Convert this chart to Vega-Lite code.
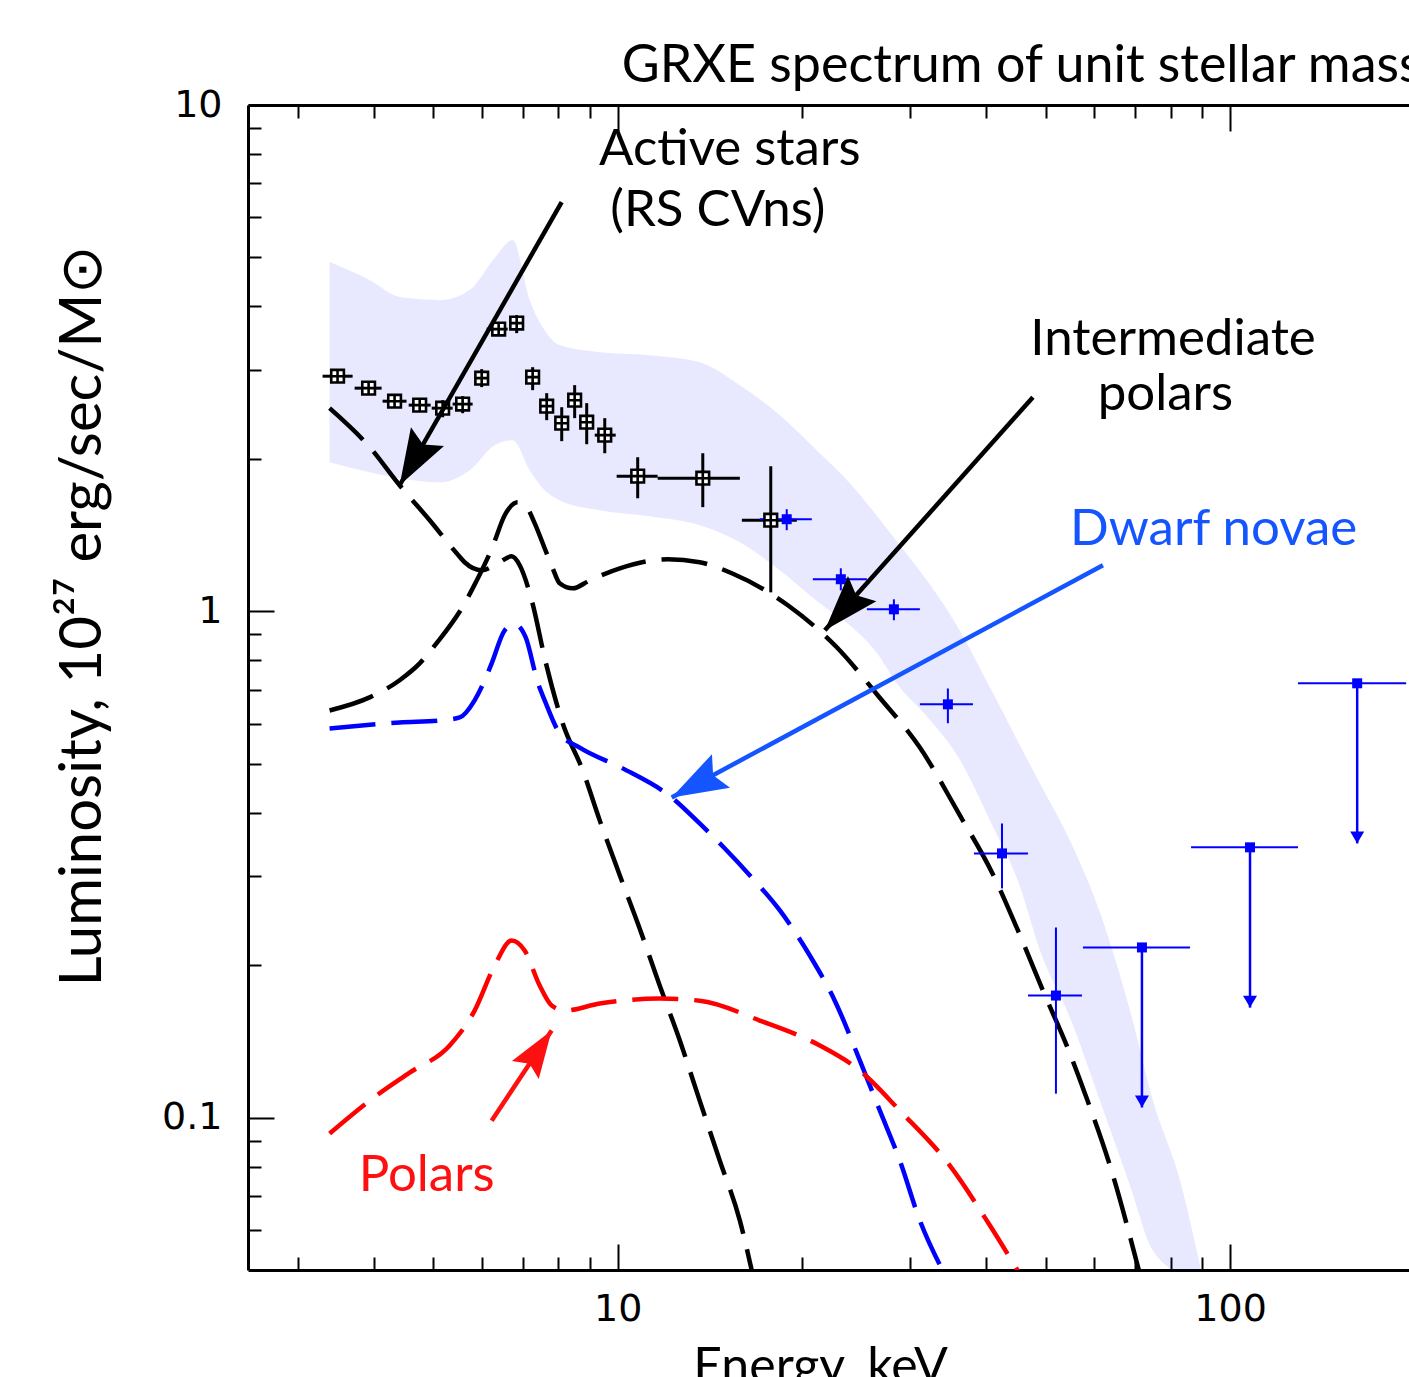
{
  "$schema": "https://vega.github.io/schema/vega-lite/v6.json",
  "autosize": {"type": "none"},
  "padding": {"left": 248, "top": 105, "right": 0, "bottom": 107},
  "width": 1161,
  "height": 1165,
  "background": "white",
  "config": {"view": {"stroke": null}},
  "datasets": {
    "band": [
      {"E": 3.384, "hi": 4.894, "lo": 1.970},
      {"E": 3.934, "hi": 4.511, "lo": 1.883},
      {"E": 4.404, "hi": 4.174, "lo": 1.832},
      {"E": 5.120, "hi": 4.117, "lo": 1.798},
      {"E": 5.731, "hi": 4.310, "lo": 1.900},
      {"E": 6.295, "hi": 4.985, "lo": 2.129},
      {"E": 6.736, "hi": 5.41, "lo": 2.177},
      {"E": 7.182, "hi": 4.117, "lo": 1.900},
      {"E": 7.598, "hi": 3.592, "lo": 1.734},
      {"E": 8.038, "hi": 3.356, "lo": 1.657},
      {"E": 9.346, "hi": 3.250, "lo": 1.583},
      {"E": 11.28, "hi": 3.206, "lo": 1.540},
      {"E": 13.61, "hi": 3.105, "lo": 1.479},
      {"E": 15.83, "hi": 2.797, "lo": 1.369},
      {"E": 18.40, "hi": 2.440, "lo": 1.205},
      {"E": 21.38, "hi": 2.052, "lo": 1.037},
      {"E": 23.94, "hi": 1.791, "lo": 0.938},
      {"E": 26.30, "hi": 1.562, "lo": 0.837},
      {"E": 28.89, "hi": 1.350, "lo": 0.7076},
      {"E": 31.98, "hi": 1.151, "lo": 0.620},
      {"E": 35.93, "hi": 0.930, "lo": 0.517},
      {"E": 40.54, "hi": 0.7076, "lo": 0.3864},
      {"E": 45.38, "hi": 0.5434, "lo": 0.2862},
      {"E": 48.93, "hi": 0.457, "lo": 0.2138},
      {"E": 54.76, "hi": 0.3527, "lo": 0.1576},
      {"E": 61.31, "hi": 0.2542, "lo": 0.108},
      {"E": 68.64, "hi": 0.1627, "lo": 0.0734},
      {"E": 74.84, "hi": 0.108, "lo": 0.0546},
      {"E": 82.86, "hi": 0.0751, "lo": 0.0498},
      {"E": 89.33, "hi": 0.0511, "lo": 0.0498}
    ],
    "curves": [
      {"model": "Active stars", "E": 3.384, "L": 2.519},
      {"model": "Active stars", "E": 3.934, "L": 2.110},
      {"model": "Active stars", "E": 4.404, "L": 1.774},
      {"model": "Active stars", "E": 4.931, "L": 1.513},
      {"model": "Active stars", "E": 5.457, "L": 1.302},
      {"model": "Active stars", "E": 5.623, "L": 1.250},
      {"model": "Active stars", "E": 5.996, "L": 1.205},
      {"model": "Active stars", "E": 6.367, "L": 1.244},
      {"model": "Active stars", "E": 6.711, "L": 1.284},
      {"model": "Active stars", "E": 6.917, "L": 1.233},
      {"model": "Active stars", "E": 7.237, "L": 1.051},
      {"model": "Active stars", "E": 7.628, "L": 0.793},
      {"model": "Active stars", "E": 8.130, "L": 0.601},
      {"model": "Active stars", "E": 8.767, "L": 0.485},
      {"model": "Active stars", "E": 9.346, "L": 0.3864},
      {"model": "Active stars", "E": 10.08, "L": 0.3008},
      {"model": "Active stars", "E": 10.86, "L": 0.2363},
      {"model": "Active stars", "E": 11.71, "L": 0.1823},
      {"model": "Active stars", "E": 12.63, "L": 0.142},
      {"model": "Active stars", "E": 13.61, "L": 0.108},
      {"model": "Active stars", "E": 14.68, "L": 0.0822},
      {"model": "Active stars", "E": 15.83, "L": 0.0626},
      {"model": "Active stars", "E": 16.56, "L": 0.0498},
      {"model": "Intermediate polars", "E": 3.384, "L": 0.637},
      {"model": "Intermediate polars", "E": 3.934, "L": 0.676},
      {"model": "Intermediate polars", "E": 4.404, "L": 0.731},
      {"model": "Intermediate polars", "E": 4.749, "L": 0.789},
      {"model": "Intermediate polars", "E": 5.061, "L": 0.865},
      {"model": "Intermediate polars", "E": 5.623, "L": 1.037},
      {"model": "Intermediate polars", "E": 5.796, "L": 1.110},
      {"model": "Intermediate polars", "E": 6.249, "L": 1.344},
      {"model": "Intermediate polars", "E": 6.538, "L": 1.548},
      {"model": "Intermediate polars", "E": 6.865, "L": 1.642},
      {"model": "Intermediate polars", "E": 7.101, "L": 1.606},
      {"model": "Intermediate polars", "E": 7.319, "L": 1.492},
      {"model": "Intermediate polars", "E": 7.598, "L": 1.332},
      {"model": "Intermediate polars", "E": 7.831, "L": 1.216},
      {"model": "Intermediate polars", "E": 8.038, "L": 1.136},
      {"model": "Intermediate polars", "E": 8.444, "L": 1.110},
      {"model": "Intermediate polars", "E": 9.000, "L": 1.151},
      {"model": "Intermediate polars", "E": 10.08, "L": 1.216},
      {"model": "Intermediate polars", "E": 12.07, "L": 1.267},
      {"model": "Intermediate polars", "E": 13.61, "L": 1.250},
      {"model": "Intermediate polars", "E": 15.36, "L": 1.189},
      {"model": "Intermediate polars", "E": 18.96, "L": 1.028},
      {"model": "Intermediate polars", "E": 22.79, "L": 0.849},
      {"model": "Intermediate polars", "E": 26.60, "L": 0.682},
      {"model": "Intermediate polars", "E": 31.15, "L": 0.538},
      {"model": "Intermediate polars", "E": 36.21, "L": 0.3952},
      {"model": "Intermediate polars", "E": 40.85, "L": 0.3049},
      {"model": "Intermediate polars", "E": 45.04, "L": 0.2342},
      {"model": "Intermediate polars", "E": 49.48, "L": 0.1782},
      {"model": "Intermediate polars", "E": 54.35, "L": 0.1369},
      {"model": "Intermediate polars", "E": 57.96, "L": 0.1115},
      {"model": "Intermediate polars", "E": 63.66, "L": 0.0804},
      {"model": "Intermediate polars", "E": 71.01, "L": 0.0498},
      {"model": "Dwarf novae", "E": 3.384, "L": 0.587},
      {"model": "Dwarf novae", "E": 4.404, "L": 0.603},
      {"model": "Dwarf novae", "E": 5.158, "L": 0.609},
      {"model": "Dwarf novae", "E": 5.519, "L": 0.617},
      {"model": "Dwarf novae", "E": 5.838, "L": 0.667},
      {"model": "Dwarf novae", "E": 6.064, "L": 0.731},
      {"model": "Dwarf novae", "E": 6.225, "L": 0.789},
      {"model": "Dwarf novae", "E": 6.538, "L": 0.917},
      {"model": "Dwarf novae", "E": 6.787, "L": 0.943},
      {"model": "Dwarf novae", "E": 7.075, "L": 0.888},
      {"model": "Dwarf novae", "E": 7.402, "L": 0.724},
      {"model": "Dwarf novae", "E": 7.598, "L": 0.667},
      {"model": "Dwarf novae", "E": 8.038, "L": 0.574},
      {"model": "Dwarf novae", "E": 8.668, "L": 0.538},
      {"model": "Dwarf novae", "E": 10.19, "L": 0.4895},
      {"model": "Dwarf novae", "E": 12.25, "L": 0.4288},
      {"model": "Dwarf novae", "E": 13.61, "L": 0.381},
      {"model": "Dwarf novae", "E": 14.96, "L": 0.340},
      {"model": "Dwarf novae", "E": 16.44, "L": 0.3008},
      {"model": "Dwarf novae", "E": 18.40, "L": 0.2565},
      {"model": "Dwarf novae", "E": 20.59, "L": 0.209},
      {"model": "Dwarf novae", "E": 22.62, "L": 0.1702},
      {"model": "Dwarf novae", "E": 24.86, "L": 0.1296},
      {"model": "Dwarf novae", "E": 26.80, "L": 0.1032},
      {"model": "Dwarf novae", "E": 28.89, "L": 0.0822},
      {"model": "Dwarf novae", "E": 31.15, "L": 0.0626},
      {"model": "Dwarf novae", "E": 33.96, "L": 0.0498},
      {"model": "Polars", "E": 3.384, "L": 0.0930},
      {"model": "Polars", "E": 3.934, "L": 0.108},
      {"model": "Polars", "E": 4.573, "L": 0.1227},
      {"model": "Polars", "E": 5.316, "L": 0.1388},
      {"model": "Polars", "E": 5.838, "L": 0.1627},
      {"model": "Polars", "E": 6.295, "L": 0.1997},
      {"model": "Polars", "E": 6.711, "L": 0.2238},
      {"model": "Polars", "E": 7.047, "L": 0.2138},
      {"model": "Polars", "E": 7.457, "L": 0.1823},
      {"model": "Polars", "E": 7.80, "L": 0.1665},
      {"model": "Polars", "E": 8.192, "L": 0.1627},
      {"model": "Polars", "E": 9.346, "L": 0.168},
      {"model": "Polars", "E": 11.71, "L": 0.1718},
      {"model": "Polars", "E": 13.61, "L": 0.1702},
      {"model": "Polars", "E": 17.06, "L": 0.1555},
      {"model": "Polars", "E": 21.38, "L": 0.1388},
      {"model": "Polars", "E": 24.86, "L": 0.1238},
      {"model": "Polars", "E": 28.89, "L": 0.1032},
      {"model": "Polars", "E": 34.87, "L": 0.0804},
      {"model": "Polars", "E": 40.54, "L": 0.0612},
      {"model": "Polars", "E": 45.04, "L": 0.0498}
    ],
    "points": [
      {"inst": "RXTE", "E": 3.487, "Elo": 3.296, "Ehi": 3.690, "L": 2.913, "Llo": 2.87, "Lhi": 2.96},
      {"inst": "RXTE", "E": 3.919, "Elo": 3.718, "Ehi": 4.115, "L": 2.759, "Llo": 2.72, "Lhi": 2.80},
      {"inst": "RXTE", "E": 4.321, "Elo": 4.130, "Ehi": 4.520, "L": 2.600, "Llo": 2.56, "Lhi": 2.64},
      {"inst": "RXTE", "E": 4.749, "Elo": 4.556, "Ehi": 4.949, "L": 2.554, "Llo": 2.52, "Lhi": 2.59},
      {"inst": "RXTE", "E": 5.177, "Elo": 4.968, "Ehi": 5.375, "L": 2.519, "Llo": 2.417, "Lhi": 2.612},
      {"inst": "RXTE", "E": 5.581, "Elo": 5.375, "Ehi": 5.795, "L": 2.566, "Llo": 2.462, "Lhi": 2.660},
      {"inst": "RXTE", "E": 5.996, "Elo": 5.85, "Ehi": 6.15, "L": 2.887, "Llo": 2.772, "Lhi": 3.008},
      {"inst": "RXTE", "E": 6.391, "Elo": 6.109, "Ehi": 6.611, "L": 3.609, "Llo": 3.53, "Lhi": 3.69},
      {"inst": "RXTE", "E": 6.839, "Elo": 6.70, "Ehi": 6.98, "L": 3.709, "Llo": 3.543, "Lhi": 3.846},
      {"inst": "RXTE", "E": 7.262, "Elo": 7.12, "Ehi": 7.40, "L": 2.901, "Llo": 2.734, "Lhi": 3.035},
      {"inst": "RXTE", "E": 7.656, "Elo": 7.52, "Ehi": 7.79, "L": 2.542, "Llo": 2.385, "Lhi": 2.697},
      {"inst": "RXTE", "E": 8.101, "Elo": 7.96, "Ehi": 8.25, "L": 2.352, "Llo": 2.168, "Lhi": 2.530},
      {"inst": "RXTE", "E": 8.505, "Elo": 8.36, "Ehi": 8.65, "L": 2.612, "Llo": 2.407, "Lhi": 2.797},
      {"inst": "RXTE", "E": 8.899, "Elo": 8.75, "Ehi": 9.05, "L": 2.363, "Llo": 2.138, "Lhi": 2.577},
      {"inst": "RXTE", "E": 9.524, "Elo": 9.172, "Ehi": 9.925, "L": 2.228, "Llo": 2.052, "Lhi": 2.407},
      {"inst": "RXTE", "E": 10.78, "Elo": 9.96, "Ehi": 11.62, "L": 1.849, "Llo": 1.672, "Lhi": 2.015},
      {"inst": "RXTE", "E": 13.77, "Elo": 11.62, "Ehi": 15.83, "L": 1.832, "Llo": 1.606, "Lhi": 2.052},
      {"inst": "RXTE", "E": 17.78, "Elo": 15.95, "Ehi": 19.61, "L": 1.513, "Llo": 1.090, "Lhi": 1.934},
      {"inst": "INTEGRAL", "E": 18.88, "Elo": 17.06, "Ehi": 20.75, "L": 1.520, "Llo": 1.446, "Lhi": 1.591},
      {"inst": "INTEGRAL", "E": 23.14, "Elo": 20.83, "Ehi": 25.52, "L": 1.157, "Llo": 1.100, "Lhi": 1.216},
      {"inst": "INTEGRAL", "E": 28.25, "Elo": 25.52, "Ehi": 31.15, "L": 1.009, "Llo": 0.960, "Lhi": 1.056},
      {"inst": "INTEGRAL", "E": 34.61, "Elo": 31.15, "Ehi": 38.03, "L": 0.655, "Llo": 0.601, "Lhi": 0.704},
      {"inst": "INTEGRAL", "E": 42.42, "Elo": 38.17, "Ehi": 46.77, "L": 0.3325, "Llo": 0.2836, "Lhi": 0.381},
      {"inst": "INTEGRAL", "E": 51.96, "Elo": 46.77, "Ehi": 57.31, "L": 0.1742, "Llo": 0.1115, "Lhi": 0.2374}
    ],
    "limits": [
      {"E": 71.80, "Elo": 57.52, "Ehi": 86.03, "L": 0.2168, "Ltip": 0.1047},
      {"E": 107.8, "Elo": 86.36, "Ehi": 129.1, "L": 0.3418, "Ltip": 0.1649},
      {"E": 161.3, "Elo": 129.1, "Ehi": 193.9, "L": 0.7207, "Ltip": 0.348}
    ],
    "arrows": [
      {"name": "Active stars", "E1": 8.10, "L1": 6.43, "E2": 4.404, "L2": 1.774},
      {"name": "Intermediate polars", "E1": 47.65, "L1": 2.648, "E2": 21.79, "L2": 0.917},
      {"name": "Dwarf novae", "E1": 62.0, "L1": 1.233, "E2": 12.25, "L2": 0.4288},
      {"name": "Polars", "E1": 6.225, "L1": 0.0986, "E2": 7.80, "L2": 0.1486}
    ],
    "labels": [
      {"name": "Active stars", "text": "Active stars", "E": 15.24, "L": 7.61},
      {"name": "Active stars", "text": "(RS CVns)", "E": 14.57, "L": 5.77},
      {"name": "Intermediate polars", "text": "Intermediate", "E": 80.7, "L": 3.206},
      {"name": "Intermediate polars", "text": "polars", "E": 78.4, "L": 2.496},
      {"name": "Dwarf novae", "text": "Dwarf novae", "E": 94.0, "L": 1.350},
      {"name": "Polars", "text": "Polars", "E": 4.875, "L": 0.0717}
    ],
    "heading": [
      {"text": "GRXE spectrum of unit stellar mass", "E": 10.15, "L": 11.10}
    ]
  },
  "resolve": {"axis": {"x": "independent", "y": "independent"}},
  "layer": [
    {
      "data": {"name": "band"},
      "mark": {"type": "area", "fill": "#1a2bff", "fillOpacity": 0.1, "interpolate": "monotone", "clip": true},
      "encoding": {
        "x": {"field": "E", "type": "quantitative",
          "scale": {"type": "log", "domain": [2.49, 196], "nice": false},
          "axis": {"orient": "bottom", "values": [3,4,5,6,7,8,9,10,20,30,40,50,60,70,80,90,100],
            "labelExpr": "datum.value == 10 ? '10' : datum.value == 100 ? '100' : ''",
            "tickSize": {"condition": {"test": "datum.value == 10 || datum.value == 100", "value": -26}, "value": -13},
            "tickWidth": 2, "tickColor": "#000", "domainColor": "#000", "domainWidth": 3,
            "labelFont": "DejaVu Sans", "labelFontSize": 38, "labelColor": "#000", "labelPadding": 46,
            "labelOverlap": false, "labelFlush": false, "labelBound": false, "grid": false,
            "title": "Energy, keV", "titleFont": "Lato", "titleFontSize": 50, "titleFontWeight": "normal",
            "titleColor": "#000", "titleX": 572, "titleY": 112, "titleAlign": "center", "titleBaseline": "alphabetic"}},
        "y": {"field": "hi", "type": "quantitative",
          "scale": {"type": "log", "domain": [0.05, 10], "nice": false},
          "axis": {"orient": "left", "values": [0.06,0.07,0.08,0.09,0.1,0.2,0.3,0.4,0.5,0.6,0.7,0.8,0.9,1,2,3,4,5,6,7,8,9,10],
            "labelExpr": "datum.value == 0.1 ? '0.1' : datum.value == 1 ? '1' : datum.value == 10 ? '10' : ''",
            "tickSize": {"condition": {"test": "datum.value == 0.1 || datum.value == 1 || datum.value == 10", "value": -26}, "value": -13},
            "tickWidth": 2, "tickColor": "#000", "domainColor": "#000", "domainWidth": 3,
            "labelFont": "DejaVu Sans", "labelFontSize": 38, "labelColor": "#000", "labelPadding": 52,
            "labelOverlap": false, "labelFlush": false, "labelBound": false, "grid": false,
            "title": "Luminosity, 10²⁷  erg/sec/M⊙", "titleFont": "Lato", "titleFontSize": 58, "titleFontWeight": "normal",
            "titleColor": "#000", "titleX": -148, "titleY": 510, "titleAngle": 270, "titleAlign": "center", "titleBaseline": "alphabetic"}},
        "y2": {"field": "lo"}
      }
    },
    {
      "data": {"name": "curves"},
      "mark": {"type": "line", "strokeWidth": 4.5, "strokeDash": [46, 16], "interpolate": "monotone", "clip": true},
      "encoding": {
        "x": {"field": "E", "type": "quantitative",
          "scale": {"type": "log", "domain": [2.49, 196], "nice": false},
          "axis": {"orient": "top", "values": [3,4,5,6,7,8,9,10,20,30,40,50,60,70,80,90,100],
            "labels": false, "title": null, "grid": false,
            "tickSize": {"condition": {"test": "datum.value == 10 || datum.value == 100", "value": -26}, "value": -13},
            "tickWidth": 2, "tickColor": "#000", "domainColor": "#000", "domainWidth": 3}},
        "y": {"field": "L", "type": "quantitative", "scale": {"type": "log", "domain": [0.05, 10], "nice": false}, "axis": null},
        "color": {"field": "model", "type": "nominal",
          "scale": {"domain": ["Active stars", "Intermediate polars", "Dwarf novae", "Polars"], "range": ["#000000", "#000000", "#0000ff", "#ff0000"]},
          "legend": null}
      }
    },
    {
      "data": {"name": "points"},
      "mark": {"type": "rule", "clip": true},
      "encoding": {
        "x": {"field": "Elo", "type": "quantitative", "scale": {"type": "log", "domain": [2.49, 196], "nice": false}, "axis": null},
        "x2": {"field": "Ehi"},
        "y": {"field": "L", "type": "quantitative", "scale": {"type": "log", "domain": [0.05, 10], "nice": false}, "axis": null},
        "color": {"condition": {"test": "datum.inst == 'INTEGRAL'", "value": "#0000ff"}, "value": "#000000"},
        "strokeWidth": {"condition": {"test": "datum.inst == 'INTEGRAL'", "value": 2}, "value": 3}
      }
    },
    {
      "data": {"name": "points"},
      "mark": {"type": "rule", "clip": true},
      "encoding": {
        "x": {"field": "E", "type": "quantitative", "scale": {"type": "log", "domain": [2.49, 196], "nice": false}, "axis": null},
        "y": {"field": "Llo", "type": "quantitative", "scale": {"type": "log", "domain": [0.05, 10], "nice": false}, "axis": null},
        "y2": {"field": "Lhi"},
        "color": {"condition": {"test": "datum.inst == 'INTEGRAL'", "value": "#0000ff"}, "value": "#000000"},
        "strokeWidth": {"condition": {"test": "datum.inst == 'INTEGRAL'", "value": 2}, "value": 3}
      }
    },
    {
      "data": {"name": "points"},
      "transform": [{"filter": "datum.inst == 'RXTE'"}],
      "mark": {"type": "point", "shape": "M-1,-1H1V1H-1Z M-1,0H1 M0,-1V1", "size": 160, "fill": "white", "stroke": "black", "strokeWidth": 2.6, "opacity": 1, "filled": true},
      "encoding": {
        "x": {"field": "E", "type": "quantitative", "scale": {"type": "log", "domain": [2.49, 196], "nice": false}, "axis": null},
        "y": {"field": "L", "type": "quantitative", "scale": {"type": "log", "domain": [0.05, 10], "nice": false}, "axis": null}
      }
    },
    {
      "data": {"name": "points"},
      "transform": [{"filter": "datum.inst == 'INTEGRAL'"}],
      "mark": {"type": "point", "shape": "square", "size": 100, "fill": "#0000ff", "strokeWidth": 0, "opacity": 1, "filled": true},
      "encoding": {
        "x": {"field": "E", "type": "quantitative", "scale": {"type": "log", "domain": [2.49, 196], "nice": false}, "axis": null},
        "y": {"field": "L", "type": "quantitative", "scale": {"type": "log", "domain": [0.05, 10], "nice": false}, "axis": null}
      }
    },
    {
      "data": {"name": "limits"},
      "mark": {"type": "rule", "color": "#0000ff", "strokeWidth": 2},
      "encoding": {
        "x": {"field": "Elo", "type": "quantitative", "scale": {"type": "log", "domain": [2.49, 196], "nice": false}, "axis": null},
        "x2": {"field": "Ehi"},
        "y": {"field": "L", "type": "quantitative", "scale": {"type": "log", "domain": [0.05, 10], "nice": false}, "axis": null}
      }
    },
    {
      "data": {"name": "limits"},
      "mark": {"type": "rule", "color": "#0000ff", "strokeWidth": 2.5},
      "encoding": {
        "x": {"field": "E", "type": "quantitative", "scale": {"type": "log", "domain": [2.49, 196], "nice": false}, "axis": null},
        "y": {"field": "L", "type": "quantitative", "scale": {"type": "log", "domain": [0.05, 10], "nice": false}, "axis": null},
        "y2": {"field": "Ltip"}
      }
    },
    {
      "data": {"name": "limits"},
      "mark": {"type": "point", "shape": "square", "size": 100, "fill": "#0000ff", "strokeWidth": 0, "opacity": 1, "filled": true},
      "encoding": {
        "x": {"field": "E", "type": "quantitative", "scale": {"type": "log", "domain": [2.49, 196], "nice": false}, "axis": null},
        "y": {"field": "L", "type": "quantitative", "scale": {"type": "log", "domain": [0.05, 10], "nice": false}, "axis": null}
      }
    },
    {
      "data": {"name": "limits"},
      "mark": {"type": "point", "shape": "M0,0L-1,-1.7L1,-1.7Z", "size": 196, "fill": "#0000ff", "strokeWidth": 0, "opacity": 1, "filled": true},
      "encoding": {
        "x": {"field": "E", "type": "quantitative", "scale": {"type": "log", "domain": [2.49, 196], "nice": false}, "axis": null},
        "y": {"field": "Ltip", "type": "quantitative", "scale": {"type": "log", "domain": [0.05, 10], "nice": false}, "axis": null}
      }
    },
    {
      "data": {"name": "arrows"},
      "mark": {"type": "rule", "strokeWidth": 4.5},
      "encoding": {
        "x": {"field": "E1", "type": "quantitative", "scale": {"type": "log", "domain": [2.49, 196], "nice": false}, "axis": null},
        "y": {"field": "L1", "type": "quantitative", "scale": {"type": "log", "domain": [0.05, 10], "nice": false}, "axis": null},
        "x2": {"field": "E2"},
        "y2": {"field": "L2"},
        "color": {"condition": [
          {"test": "datum.name == 'Dwarf novae'", "value": "#1455ff"},
          {"test": "datum.name == 'Polars'", "value": "#ff1010"}], "value": "#000000"}
      }
    },
    {
      "data": {"name": "arrows"},
      "mark": {"type": "point", "shape": "M0,0L0.34,1L0,0.84L-0.34,1Z", "strokeWidth": 0, "opacity": 1, "filled": true},
      "encoding": {
        "x": {"field": "E2", "type": "quantitative", "scale": {"type": "log", "domain": [2.49, 196], "nice": false}, "axis": null},
        "y": {"field": "L2", "type": "quantitative", "scale": {"type": "log", "domain": [0.05, 10], "nice": false}, "axis": null},
        "size": {"condition": {"test": "datum.name == 'Polars'", "value": 9000}, "value": 12544},
        "angle": {"condition": [
          {"test": "datum.name == 'Active stars'", "value": 209.8},
          {"test": "datum.name == 'Intermediate polars'", "value": 221.8},
          {"test": "datum.name == 'Dwarf novae'", "value": 241.7}], "value": 33.7},
        "fill": {"condition": [
          {"test": "datum.name == 'Dwarf novae'", "value": "#1455ff"},
          {"test": "datum.name == 'Polars'", "value": "#ff1010"}], "value": "#000000"}
      }
    },
    {
      "data": {"name": "labels"},
      "mark": {"type": "text", "font": "Lato", "fontSize": 51, "align": "center", "baseline": "alphabetic"},
      "encoding": {
        "x": {"field": "E", "type": "quantitative", "scale": {"type": "log", "domain": [2.49, 196], "nice": false}, "axis": null},
        "y": {"field": "L", "type": "quantitative", "scale": {"type": "log", "domain": [0.05, 10], "nice": false}, "axis": null},
        "text": {"field": "text"},
        "color": {"condition": [
          {"test": "datum.name == 'Dwarf novae'", "value": "#1455ff"},
          {"test": "datum.name == 'Polars'", "value": "#ff1010"}], "value": "#000000"}
      }
    },
    {
      "data": {"name": "heading"},
      "mark": {"type": "text", "font": "Lato", "fontSize": 52, "align": "left", "baseline": "alphabetic", "color": "#000000"},
      "encoding": {
        "x": {"field": "E", "type": "quantitative", "scale": {"type": "log", "domain": [2.49, 196], "nice": false}, "axis": null},
        "y": {"field": "L", "type": "quantitative", "scale": {"type": "log", "domain": [0.05, 10], "nice": false}, "axis": null},
        "text": {"field": "text"}
      }
    }
  ]
}
